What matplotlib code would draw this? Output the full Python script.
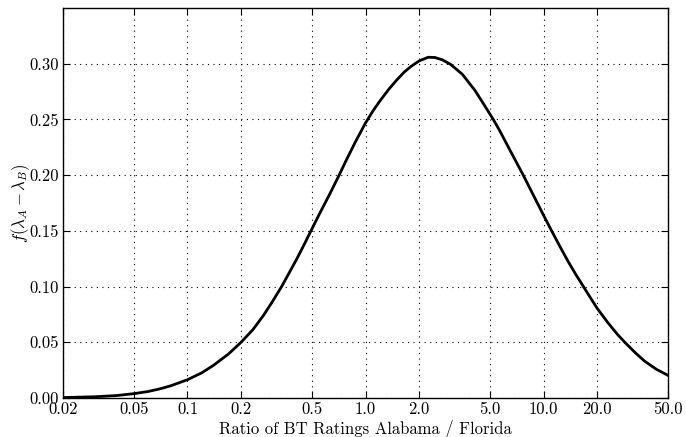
import matplotlib
matplotlib.use("Agg")
import matplotlib.pyplot as plt
from matplotlib.ticker import FixedLocator, FixedFormatter, NullLocator

ratio = [0.02, 0.03, 0.04, 0.05, 0.06, 0.07, 0.08, 0.091, 0.1, 0.12, 0.14, 0.17,
         0.2, 0.233, 0.267, 0.30, 0.338, 0.41, 0.45, 0.494, 0.55, 0.631, 0.711,
         0.783, 0.88, 1.0, 1.1, 1.2, 1.35, 1.5, 1.65, 1.8, 2.0, 2.25, 2.45, 2.7,
         3.0, 3.5, 4.12, 4.6, 5.22, 5.7, 6.34, 7.0, 7.69, 8.8, 10.0, 11.1, 12.3,
         13.8, 15.2, 16.75, 18.3, 20.0, 23.0, 26.0, 28.6, 33.0, 37.0, 43.0, 50.0]
density = [0.0004, 0.0011, 0.0022, 0.0039, 0.0058, 0.0082, 0.0108, 0.0140, 0.0164,
           0.0225, 0.0293, 0.0395, 0.0500, 0.0613, 0.0740, 0.0865, 0.1000, 0.1244,
           0.1370, 0.1500, 0.1649, 0.1833, 0.2000, 0.2140, 0.2302, 0.2468, 0.2575,
           0.2662, 0.2770, 0.2855, 0.2925, 0.2975, 0.3025, 0.3058, 0.3056, 0.3035,
           0.2995, 0.2905, 0.2760, 0.2640, 0.2500, 0.2393, 0.2252, 0.2123, 0.2000,
           0.1815, 0.1640, 0.1500, 0.1366, 0.1220, 0.1107, 0.1000, 0.0902, 0.0805,
           0.0675, 0.0571, 0.0500, 0.0401, 0.0330, 0.0258, 0.0203]

xticks = [0.02, 0.05, 0.1, 0.2, 0.5, 1.0, 2.0, 5.0, 10.0, 20.0, 50.0]
xticklabels = ["0.02", "0.05", "0.1", "0.2", "0.5", "1.0", "2.0", "5.0", "10.0", "20.0", "50.0"]
yticks = [0.00, 0.05, 0.10, 0.15, 0.20, 0.25, 0.30]
yticklabels = ["0.00", "0.05", "0.10", "0.15", "0.20", "0.25", "0.30"]

plt.rcParams['font.family'] = ['cmr10', 'DejaVu Serif']
plt.rcParams['mathtext.fontset'] = 'cm'
plt.rcParams['axes.formatter.use_mathtext'] = True

fig = plt.figure(figsize=(6.86, 4.37), dpi=100)
ax = fig.add_axes([63/686, 39/437, 605/686, 390/437])

ax.plot(ratio, density, color='black', lw=2.0, solid_joinstyle='round')

ax.set_xscale('log')
ax.set_xlim(0.02, 50.0)
ax.set_ylim(0.0, 0.35)
ax.xaxis.set_major_locator(FixedLocator(xticks))
ax.xaxis.set_major_formatter(FixedFormatter(xticklabels))
ax.xaxis.set_minor_locator(NullLocator())
ax.set_yticks(yticks)
ax.set_yticklabels(yticklabels)

ax.tick_params(axis='both', which='major', direction='in', length=5, width=0.8,
               top=True, right=True, labelsize=12, pad=3, color='black')
for s in ax.spines.values():
    s.set_linewidth(1.0)
    s.set_color('black')

ax.grid(True, color='black', lw=0.8, linestyle=(0, (1, 4)))

ax.set_xlabel("Ratio of BT Ratings Alabama / Florida", fontsize=12, labelpad=2)
ax.set_ylabel(r"$f(\lambda_A - \lambda_B)$", fontsize=12, labelpad=-2)

fig.savefig("out.png", dpi=100)
